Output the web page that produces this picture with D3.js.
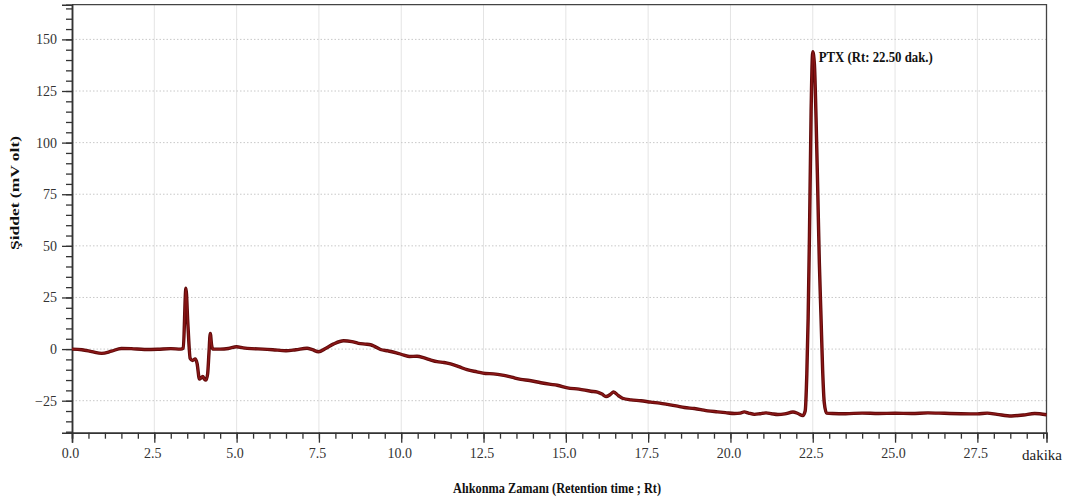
<!DOCTYPE html>
<html>
<head>
<meta charset="utf-8">
<script src="https://cdn.jsdelivr.net/npm/d3@7"></script>
<style>
  html, body { margin: 0; padding: 0; background: #fff; }
  svg { display: block; }
  text { font-family: "Liberation Serif", "Times New Roman", serif; }
</style>
</head>
<body>
<svg id="chart" width="1071" height="504"></svg>
<script>
// Retention time (min) of each sampled point of the chromatogram
const retentionTimes = [
  0, 0.3, 0.6, 0.9, 1.2, 1.5, 1.8, 2.2, 2.6, 3.0, 3.3, 3.38, 3.46, 3.52, 3.59, 3.66, 3.74, 3.8,
  3.87, 3.92, 3.97, 4.02, 4.07, 4.12, 4.16, 4.2, 4.24, 4.28, 4.5, 4.75, 5.0, 5.2, 5.45, 5.8,
  6.1, 6.5, 6.8, 7.14, 7.3, 7.49, 7.7, 7.95, 8.25, 8.5, 8.7, 8.9, 9.07, 9.2, 9.37, 9.6, 9.85,
  10.08, 10.25, 10.48, 10.7, 10.9, 11.09, 11.3, 11.5, 11.75, 12.0, 12.3, 12.56, 12.8, 13.07,
  13.35, 13.63, 13.9, 14.24, 14.5, 14.74, 15.05, 15.4, 15.76, 15.96, 16.1, 16.22, 16.35, 16.45,
  16.6, 16.72, 16.98, 17.28, 17.58, 17.85, 18.09, 18.35, 18.6, 18.9, 19.1, 19.31, 19.61, 19.85,
  20.12, 20.3, 20.42, 20.55, 20.73, 20.9, 21.08, 21.25, 21.44, 21.65, 21.9, 22.05, 22.2, 22.27,
  22.32, 22.36, 22.4, 22.45, 22.5, 22.55, 22.6, 22.65, 22.7, 22.75, 22.8, 22.85, 22.92, 23.1,
  23.5, 24.0, 24.5, 25.0, 25.5, 26.0, 26.5, 27.0, 27.5, 27.8, 28.1, 28.54, 28.9, 29.24, 29.6
];

// Detector signal (mV) at each retention time
const signal = [
  0, -0.3, -1.2, -2.1, -1.0, 0.3, 0.2, -0.2, -0.1, 0.2, 0, 0.5, 29.5, 12, -4.5, -5.5, -4.8, -7,
  -14.5, -14, -13.2, -14.5, -15, -12, -2, 7.6, 2, 0, 0, 0.3, 1.1, 0.6, 0.2, 0,
  -0.3, -0.8, -0.3, 0.4, -0.3, -1.3, 0.3, 2.5, 4.0, 3.6, 2.8, 2.4, 2.1, 1.2, -0.2, -0.9, -1.8,
  -2.9, -3.6, -3.5, -4.3, -5.3, -6.1, -6.5, -7.2, -8.5, -10, -11, -11.8, -12.0, -12.6,
  -13.6, -14.7, -15.2, -16.3, -17.0, -17.5, -18.8, -19.4, -20.4, -20.8, -21.8, -23.0, -22.0, -20.8,
  -22.6, -23.8, -24.6, -25.0, -25.7, -26.2, -26.8, -27.5, -28.3, -28.8, -29.3, -29.9, -30.4, -30.8,
  -31.2, -31.0, -30.4, -31.0, -31.6, -31.3, -30.9, -31.3, -31.7, -31.4, -30.5, -31.2, -32.2, -30,
  -12, 15, 55, 115, 144, 138, 112, 78, 42, 16, -10, -26, -31, -31.2,
  -31.3, -31.0, -31.2, -31.1, -31.2, -30.9, -31.1, -31.3, -31.4, -31.0, -31.6, -32.4, -31.9, -31.2, -31.8
];

// Axis ticks
const xMajorTicks = [0, 2.5, 5, 7.5, 10, 12.5, 15, 17.5, 20, 22.5, 25, 27.5];
const yMajorTicks = [-25, 0, 25, 50, 75, 100, 125, 150];

// Peak annotation
const peakName = "PTX";
const peakTime = 22.5;
const peakHeight = 144;

const svg = d3.select("#chart");
const margin = { left: 72, right: 1071 - 1046.5, top: 4.7, bottom: 504 - 432.7 };
const W = 1071, H = 504;

const x = d3.scaleLinear().domain([0, 29.6]).range([margin.left, W - margin.right]);
const y = d3.scaleLinear().domain([-40.5, 166.8]).range([H - margin.bottom, margin.top]);

const xMinor = d3.range(0, 29.6 + 1e-9, 0.5);
const yMinor = d3.range(-40, 166.8, 5);

// Grid: solid vertical lines, dotted horizontal lines
svg.append("g").selectAll("line")
  .data(xMajorTicks.filter(d => d > 0))
  .join("line")
  .attr("x1", d => x(d)).attr("x2", d => x(d))
  .attr("y1", y.range()[1]).attr("y2", y.range()[0])
  .attr("stroke", "#e4e4e4").attr("stroke-width", 1);

svg.append("g").selectAll("line")
  .data(yMajorTicks)
  .join("line")
  .attr("x1", x.range()[0]).attr("x2", x.range()[1])
  .attr("y1", d => y(d)).attr("y2", d => y(d))
  .attr("stroke", "#c8c8c8").attr("stroke-width", 1)
  .attr("stroke-dasharray", "1.5,2");

// Frame (top and right)
svg.append("path")
  .attr("d", `M${x.range()[0]},${y.range()[1]}H${x.range()[1]}V${y.range()[0]}`)
  .attr("fill", "none").attr("stroke", "#444").attr("stroke-width", 1.3);

// X axis: minor and major ticks
const xAxisMinor = d3.axisBottom(x).tickValues(xMinor).tickSize(6).tickFormat("");
const xAxisMajor = d3.axisBottom(x).tickValues(xMajorTicks).tickSize(10).tickPadding(5)
  .tickFormat(d3.format(".1f"));

const gxMinor = svg.append("g").attr("transform", `translate(0,${y.range()[0]})`).call(xAxisMinor);
const gx = svg.append("g").attr("transform", `translate(0,${y.range()[0]})`).call(xAxisMajor);
[gxMinor, gx].forEach(g => {
  g.select(".domain").attr("stroke", "#333").attr("stroke-width", 1.5);
  g.selectAll(".tick line").attr("stroke", "#333").attr("stroke-width", 1.3);
});
gx.selectAll(".tick text")
  .attr("font-family", "Liberation Serif, serif")
  .attr("font-size", 14).attr("fill", "#333")
  .attr("dx", -2);

// Y axis: minor and major ticks
const yAxisMinor = d3.axisLeft(y).tickValues(yMinor).tickSize(6).tickFormat("");
const yAxisMajor = d3.axisLeft(y).tickValues(yMajorTicks).tickSize(10).tickPadding(5)
  .tickFormat(d3.format("d"));

const gyMinor = svg.append("g").attr("transform", `translate(${x.range()[0]},0)`).call(yAxisMinor);
const gy = svg.append("g").attr("transform", `translate(${x.range()[0]},0)`).call(yAxisMajor);
[gyMinor, gy].forEach(g => {
  g.select(".domain").attr("stroke", "#333").attr("stroke-width", 1.5);
  g.selectAll(".tick line").attr("stroke", "#333").attr("stroke-width", 1.3);
});
gy.selectAll(".tick text")
  .attr("font-family", "Liberation Serif, serif")
  .attr("font-size", 14).attr("fill", "#333");

// Unit label at the end of the time axis
svg.append("text")
  .attr("x", 1022).attr("y", 460)
  .attr("font-size", 15).attr("fill", "#222")
  .text("dakika");

// Axis titles
svg.append("text")
  .attr("x", 557).attr("y", 493)
  .attr("text-anchor", "middle")
  .attr("font-size", 14).attr("font-weight", "bold").attr("fill", "#111")
  .attr("textLength", 208).attr("lengthAdjust", "spacingAndGlyphs")
  .text("Alıkonma Zamanı (Retention time ; Rt)");

svg.append("text")
  .attr("transform", "translate(19,193) rotate(-90)")
  .attr("text-anchor", "middle")
  .attr("font-size", 13).attr("font-weight", "bold").attr("fill", "#111")
  .attr("textLength", 114).attr("lengthAdjust", "spacingAndGlyphs")
  .text("Şiddet (mV olt)");

// Chromatogram trace
const points = retentionTimes.map((t, i) => [t, signal[i]]);
const line = d3.line()
  .x(d => x(d[0]))
  .y(d => y(d[1]))
  .curve(d3.curveMonotoneX);

svg.append("path")
  .datum(points)
  .attr("d", line)
  .attr("fill", "none")
  .attr("stroke", "#5e0a0a")
  .attr("stroke-width", 3.4)
  .attr("stroke-linejoin", "round");
svg.append("path")
  .datum(points)
  .attr("d", line)
  .attr("fill", "none")
  .attr("stroke", "#8a1616")
  .attr("stroke-width", 1.6)
  .attr("stroke-linejoin", "round");

// Peak label
svg.append("text")
  .attr("x", x(peakTime) + 6).attr("y", y(peakHeight) + 10)
  .attr("font-size", 14).attr("font-weight", "bold").attr("fill", "#111")
  .attr("textLength", 114).attr("lengthAdjust", "spacingAndGlyphs")
  .text(`${peakName} (Rt: ${peakTime.toFixed(2)} dak.)`);
</script>
</body>
</html>
